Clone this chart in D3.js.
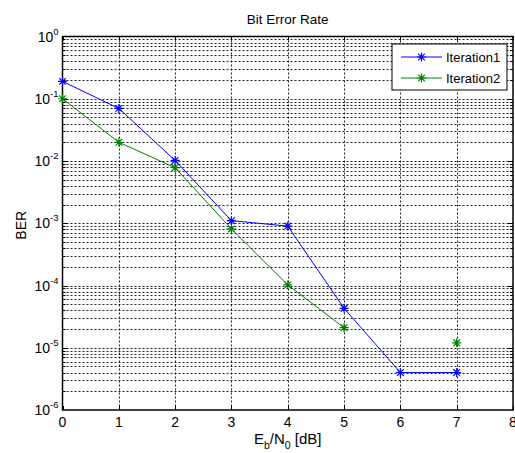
<!DOCTYPE html>
<html><head><meta charset="utf-8">
<script src="https://cdn.jsdelivr.net/npm/d3@7"></script>
<style>body{margin:0;background:#fff}svg{display:block}text{font-family:"Liberation Sans",Arial,sans-serif;}</style>
</head><body><div id="c"></div>
<script>
const snr = [0,1,2,3,4,5,6,7];
const iter1 = [0.19,0.07,0.0102,1.1e-3,9e-4,4.3e-5,4e-6,4e-6];
const iter2 = [0.1,0.02,7.8e-3,8.1e-4,1.02e-4,2.1e-5,null,1.2e-5];
const xTicks = [0,1,2,3,4,5,6,7,8];
const yExps = [0,-1,-2,-3,-4,-5,-6];
const seriesNames = ["Iteration1","Iteration2"];
const seriesColors = ["#0000ff","#008000"];

const W=515,H=453;
const L=62.5,R=513,T=36.5,B=410;
const svg=d3.select("#c").append("svg").attr("width",W).attr("height",H);
const x=d3.scaleLinear().domain([0,8]).range([L,R]);
const y=d3.scaleLog().domain([1e-6,1]).range([B,T]);

const g=svg.append("g");
const yGrid=[];
for(let e=-6;e<0;e++){for(let m=1;m<10;m++){yGrid.push(m*Math.pow(10,e));}}
const yInner=yGrid.filter(v=>v<1&&v>1e-6);
g.selectAll(".yg").data(yInner).join("line")
 .attr("x1",L).attr("x2",R).attr("y1",d=>Math.round(y(d))+0.5).attr("y2",d=>Math.round(y(d))+0.5)
 .attr("stroke","#000").attr("stroke-width",1).attr("stroke-dasharray","2,2").attr("opacity",0.85);
g.selectAll(".xg").data(xTicks.filter(v=>v>0&&v<8)).join("line")
 .attr("x1",d=>Math.round(x(d))+0.5).attr("x2",d=>Math.round(x(d))+0.5).attr("y1",T).attr("y2",B)
 .attr("stroke","#000").attr("stroke-width",1).attr("stroke-dasharray","2,2").attr("opacity",0.85);

const tl=4;
yInner.forEach(v=>{
  const isMajor=Math.abs(Math.log10(v)-Math.round(Math.log10(v)))<1e-9;
  const len=isMajor?5:3;
  const yy=Math.round(y(v))+0.5;
  g.append("line").attr("x1",L).attr("x2",L+len).attr("y1",yy).attr("y2",yy).attr("stroke","#000");
  g.append("line").attr("x1",R-len).attr("x2",R).attr("y1",yy).attr("y2",yy).attr("stroke","#000");
});
xTicks.forEach(v=>{
  const xx=Math.round(x(v))+0.5;
  g.append("line").attr("x1",xx).attr("x2",xx).attr("y1",B).attr("y2",B-tl).attr("stroke","#000");
  g.append("line").attr("x1",xx).attr("x2",xx).attr("y1",T).attr("y2",T+tl).attr("stroke","#000");
});

g.append("rect").attr("x",L).attr("y",T).attr("width",R-L).attr("height",B-T)
 .attr("fill","none").attr("stroke","#000").attr("stroke-width",1.5);

g.selectAll(".xt").data(xTicks).join("text")
 .attr("x",d=>x(d)).attr("y",B+17).attr("text-anchor","middle").attr("font-size",14).text(d=>d);
yExps.forEach(e=>{
  const t=g.append("text").attr("x",L-4).attr("y",y(Math.pow(10,e))+5).attr("text-anchor","end").attr("font-size",14);
  t.append("tspan").text("10");
  t.append("tspan").attr("font-size",9.5).attr("dy",-7).text(e);
});

svg.append("text").attr("x",(L+R)/2).attr("y",24).attr("text-anchor","middle").attr("font-size",13.5).text("Bit Error Rate");
const xl=svg.append("text").attr("x",(L+R)/2).attr("y",444).attr("text-anchor","middle").attr("font-size",15);
xl.append("tspan").text("E");
xl.append("tspan").attr("font-size",10.5).attr("dy",5).text("b");
xl.append("tspan").attr("dy",-5).text("/N");
xl.append("tspan").attr("font-size",10.5).attr("dy",5).text("0");
xl.append("tspan").attr("dy",-5).text(" [dB]");
svg.append("text").attr("transform",`translate(26,${(T+B)/2+2}) rotate(-90)`).attr("text-anchor","middle").attr("font-size",14).text("BER");

function star(sel,cx,cy,color){
  const r=4.5,d=3.3;
  const p=`M${cx-r},${cy}L${cx+r},${cy}M${cx},${cy-r}L${cx},${cy+r}M${cx-d},${cy-d}L${cx+d},${cy+d}M${cx-d},${cy+d}L${cx+d},${cy-d}`;
  sel.append("path").attr("d",p).attr("stroke",color).attr("stroke-width",1.2).attr("fill","none");
}

[iter1,iter2].forEach((vals,i)=>{
  const pts=snr.map((s,k)=>({x:s,y:vals[k]}));
  const line=d3.line().defined(d=>d.y!=null).x(d=>x(d.x)).y(d=>y(d.y));
  g.append("path").datum(pts).attr("d",line).attr("fill","none").attr("stroke",seriesColors[i]).attr("stroke-width",1);
  pts.filter(d=>d.y!=null).forEach(d=>star(g,x(d.x),y(d.y),seriesColors[i]));
});

const lg=svg.append("g");
lg.append("rect").attr("x",392).attr("y",44).attr("width",115).attr("height",46).attr("fill","#fff").attr("stroke","#000").attr("stroke-width",1);
seriesNames.forEach((n,i)=>{
  const yy=57+i*21;
  lg.append("line").attr("x1",401).attr("x2",442).attr("y1",yy).attr("y2",yy).attr("stroke",seriesColors[i]);
  star(lg,421.5,yy,seriesColors[i]);
  lg.append("text").attr("x",446).attr("y",yy+5).attr("font-size",13).text(n);
});
</script></body></html>
